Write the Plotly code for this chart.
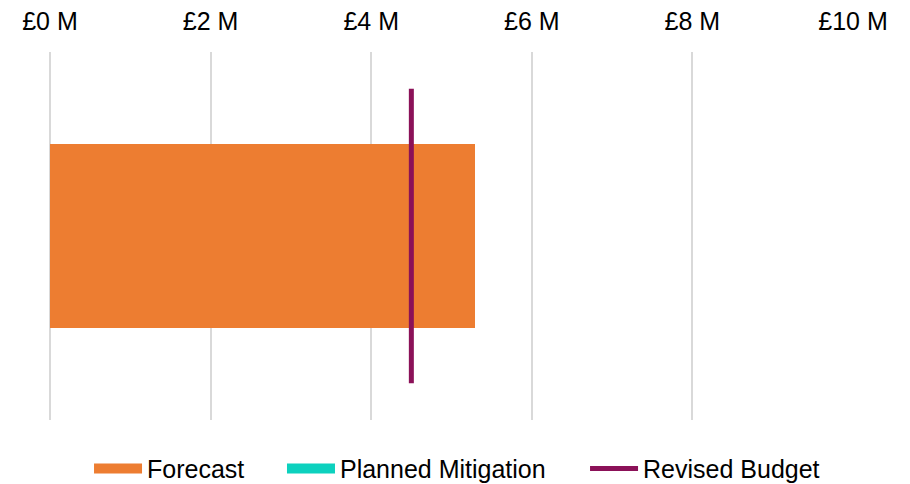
import plotly.graph_objects as go

categories = [0]
forecast = [5.29]
planned_mitigation = [0]
revised_budget_x = [4.5, 4.5]
revised_budget_y = [-0.4, 0.4]
tick_vals = [0, 2, 4, 6, 8, 10]
tick_text = ["£0 M", "£2 M", "£4 M", "£6 M", "£8 M", "£10 M"]

ORANGE = "#ED7D31"
TEAL = "#0CD1BE"
PLUM = "#8B1158"

fig = go.Figure()
fig.add_trace(go.Bar(y=categories, x=forecast, orientation="h", name="Forecast",
                     marker=dict(color=ORANGE, line=dict(width=0)), width=0.5,
                     showlegend=False, legendgroup="f"))
fig.add_trace(go.Bar(y=categories, x=planned_mitigation, orientation="h", name="Planned Mitigation",
                     marker=dict(color=TEAL, line=dict(width=0)), width=0.5,
                     showlegend=False, legendgroup="p"))
# legend entries (wide swatches)
fig.add_trace(go.Scatter(x=[None], y=[None], mode="lines", name="Forecast",
                         line=dict(color=ORANGE, width=15), legendgroup="f", legend="legend"))
fig.add_trace(go.Scatter(x=[None], y=[None], mode="lines", name="Planned Mitigation",
                         line=dict(color=TEAL, width=15), legendgroup="p", legend="legend2"))
fig.add_trace(go.Scatter(x=revised_budget_x, y=revised_budget_y, mode="lines", name="Revised Budget",
                         line=dict(color=PLUM, width=5), legend="legend3"))

leg_common = dict(orientation="h", y=-0.07, yanchor="top", xanchor="left",
                  font=dict(size=25), itemwidth=48, bgcolor="rgba(0,0,0,0)")

fig.update_layout(
    width=910, height=484,
    barmode="stack",
    plot_bgcolor="white", paper_bgcolor="white",
    font=dict(family="Liberation Sans, Arial, sans-serif", size=25, color="#000000"),
    margin=dict(l=50, r=57, t=52, b=64, autoexpand=False),
    xaxis=dict(side="top", range=[0, 10], tickvals=tick_vals, ticktext=tick_text,
               showgrid=True, gridcolor="#D9D9D9", gridwidth=1.5,
               zeroline=True, zerolinecolor="#D9D9D9", zerolinewidth=1.5,
               showline=False, ticks="", ticklabelstandoff=16),
    yaxis=dict(range=[-0.5, 0.5], showticklabels=False, showgrid=False, zeroline=False,
               showline=False),
    legend=dict(x=0.0486, **leg_common),
    legend2=dict(x=0.2889, **leg_common),
    legend3=dict(x=0.6663, **leg_common),
    showlegend=True,
)
fig.write_html("out.html")
